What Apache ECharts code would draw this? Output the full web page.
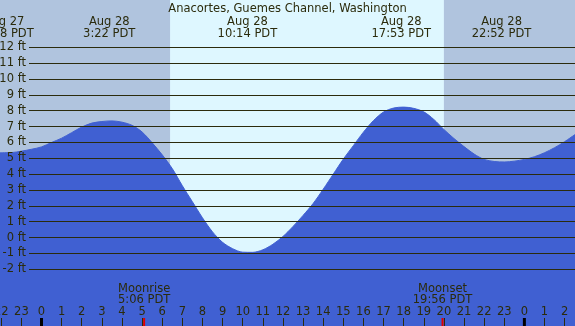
<!DOCTYPE html>
<html>
<head>
<meta charset="utf-8">
<script src="https://cdn.jsdelivr.net/npm/echarts@6/dist/echarts.min.js"></script>
<style>
html, body { margin: 0; padding: 0; }
#main { width: 575px; height: 326px; }
</style>
</head>
<body>
<div id="main"></div>
<script>
// tide heights (ft), hours from midnight Aug 28 (PDT)
var tideHours = [-2.063, -1.5, -1, -0.5, 0, 0.5, 1, 1.5, 2, 2.5, 3, 3.5, 4, 4.5, 5, 5.5, 6, 6.5, 7, 7.5, 8, 8.5, 9, 9.5, 10, 10.5, 11, 11.5, 12, 12.5, 13, 13.5, 14, 14.5, 15, 15.5, 16, 16.5, 17, 17.5, 18, 18.5, 19, 19.5, 20, 20.5, 21, 21.5, 22, 22.5, 23, 23.5, 24, 24.5, 25, 25.5, 26, 26.516];
var tideFeet  = [5.35, 5.36, 5.45, 5.57, 5.72, 6.0, 6.27, 6.62, 6.97, 7.22, 7.32, 7.36, 7.28, 7.08, 6.66, 5.98, 5.22, 4.35, 3.27, 2.26, 1.25, 0.36, -0.3, -0.7, -0.92, -0.93, -0.77, -0.42, 0.07, 0.7, 1.4, 2.15, 3.05, 4.0, 4.95, 5.8, 6.65, 7.38, 7.92, 8.17, 8.23, 8.15, 7.93, 7.45, 6.82, 6.25, 5.74, 5.27, 4.93, 4.8, 4.77, 4.82, 4.93, 5.1, 5.35, 5.67, 6.05, 6.5];

var extremeHours = [-1.867, 3.367, 10.233, 17.883, 22.867];
var extremeDates = ['Aug 27', 'Aug 28', 'Aug 28', 'Aug 28', 'Aug 28'];
var extremeTimes = ['22:08 PDT', '3:22 PDT', '10:14 PDT', '17:53 PDT', '22:52 PDT'];

var moonHours = [5.1, 19.933];
var moonNames = ['Moonrise', 'Moonset'];
var moonTimes = ['5:06 PDT', '19:56 PDT'];

var midnightHours = [0, 24];
var sunHours = [6.39, 20.0];

var hourTicks = [-2, -1, 0, 1, 2, 3, 4, 5, 6, 7, 8, 9, 10, 11, 12, 13, 14, 15, 16, 17, 18, 19, 20, 21, 22, 23, 24, 25, 26];
var footTicks = [-2, -1, 0, 1, 2, 3, 4, 5, 6, 7, 8, 9, 10, 11, 12];

var hourMin = -2.063, hourMax = 26.516;
var footMin = -5.575, footMax = 14.984;

var ink = '#2b2b0c';
var night = '#b0c4de';
var day = '#def7ff';
var water = '#4060d2';
var font = 'DejaVu Sans';
var fs = 11.5;

var myChart = echarts.init(document.getElementById('main'));

myChart.setOption({
  backgroundColor: day,
  animation: false,
  title: {
    text: 'Anacortes, Guemes Channel, Washington',
    left: 'center',
    top: -2,
    textStyle: { color: ink, fontSize: fs, fontWeight: 'normal', fontFamily: font }
  },
  grid: [
    { left: 0, right: 0, top: 0, bottom: 0, outerBoundsMode: 'none', containLabel: false },
    { left: 29, right: 0, top: 0, bottom: 0, outerBoundsMode: 'none', containLabel: false }
  ],
  xAxis: [
    {
      gridIndex: 0, type: 'value', min: hourMin, max: hourMax,
      axisLine: { show: false, onZero: false },
      splitLine: { show: false },
      z: 6,
      axisTick: { customValues: hourTicks, inside: true, length: 8, lineStyle: { color: ink, width: 1 } },
      axisLabel: {
        customValues: hourTicks, inside: true, margin: 7.5,
        color: ink, fontSize: fs, fontFamily: font,
        formatter: function (v) { return String(((v % 24) + 24) % 24); }
      }
    },
    { gridIndex: 1, type: 'value', min: hourMin, max: hourMax, show: false, axisLine: { onZero: false } }
  ],
  yAxis: [
    { gridIndex: 0, type: 'value', min: footMin, max: footMax, show: false },
    {
      gridIndex: 1, type: 'value', min: footMin, max: footMax, z: 5,
      axisLine: { show: false },
      axisTick: { show: false, customValues: footTicks },
      axisLabel: {
        customValues: footTicks, margin: 3,
        color: ink, fontSize: fs, fontFamily: font,
        formatter: function (v) { return v + ' ft'; }
      },
      splitLine: { show: true, lineStyle: { color: ink, width: 1 } }
    }
  ],
  series: [
    {
      // night shading before sunrise and after sunset
      type: 'custom', xAxisIndex: 0, yAxisIndex: 0, z: 1, silent: true,
      data: [[sunHours[0], sunHours[1]]],
      renderItem: function (params, api) {
        var cs = params.coordSys;
        var x1 = api.coord([api.value(0), 0])[0];
        var x2 = api.coord([api.value(1), 0])[0];
        return {
          type: 'group',
          children: [
            { type: 'rect', shape: { x: cs.x, y: cs.y, width: x1 - cs.x, height: cs.height }, style: { fill: night } },
            { type: 'rect', shape: { x: x2, y: cs.y, width: cs.x + cs.width - x2, height: cs.height }, style: { fill: night } }
          ]
        };
      }
    },
    {
      name: 'tide', type: 'line', xAxisIndex: 0, yAxisIndex: 0, z: 2,
      data: tideHours.map(function (h, i) { return [h, tideFeet[i]]; }),
      smooth: 0.3,
      symbol: 'none',
      lineStyle: { color: water, width: 1 },
      areaStyle: { color: water, opacity: 1, origin: 'start' }
    },
    {
      // high / low labels along the top
      type: 'custom', xAxisIndex: 0, yAxisIndex: 0, z: 10, silent: true,
      data: extremeHours.map(function (h, i) { return [h, i]; }),
      renderItem: function (params, api) {
        var i = api.value(1);
        var x = api.coord([api.value(0), 0])[0];
        return {
          type: 'text',
          style: {
            text: extremeDates[i] + '\n' + extremeTimes[i],
            x: x, y: 16, align: 'center', verticalAlign: 'top',
            fill: ink, fontSize: fs, fontFamily: font, lineHeight: 12
          }
        };
      }
    },
    {
      // moonrise / moonset
      type: 'custom', xAxisIndex: 0, yAxisIndex: 0, z: 10, silent: true,
      data: moonHours.map(function (h, i) { return [h, i]; }),
      renderItem: function (params, api) {
        var i = api.value(1);
        var x = api.coord([api.value(0), 0])[0];
        var bottom = params.coordSys.y + params.coordSys.height;
        return {
          type: 'group',
          children: [
            {
              type: 'text',
              style: {
                text: moonNames[i] + '\n' + moonTimes[i],
                x: x, y: 284, align: 'center', verticalAlign: 'top',
                fill: ink, fontSize: fs, fontFamily: font, lineHeight: 11
              }
            },
            { type: 'line', shape: { x1: x, y1: bottom - 8, x2: x, y2: bottom }, style: { stroke: '#e00000', lineWidth: 2 } }
          ]
        };
      }
    },
    {
      // midnight ticks
      type: 'custom', xAxisIndex: 0, yAxisIndex: 0, z: 10, silent: true,
      data: midnightHours.map(function (h) { return [h, 0]; }),
      renderItem: function (params, api) {
        var x = api.coord([api.value(0), 0])[0];
        var bottom = params.coordSys.y + params.coordSys.height;
        return { type: 'line', shape: { x1: x, y1: bottom - 8, x2: x, y2: bottom }, style: { stroke: '#000000', lineWidth: 3 } };
      }
    }
  ]
});
</script>
</body>
</html>
